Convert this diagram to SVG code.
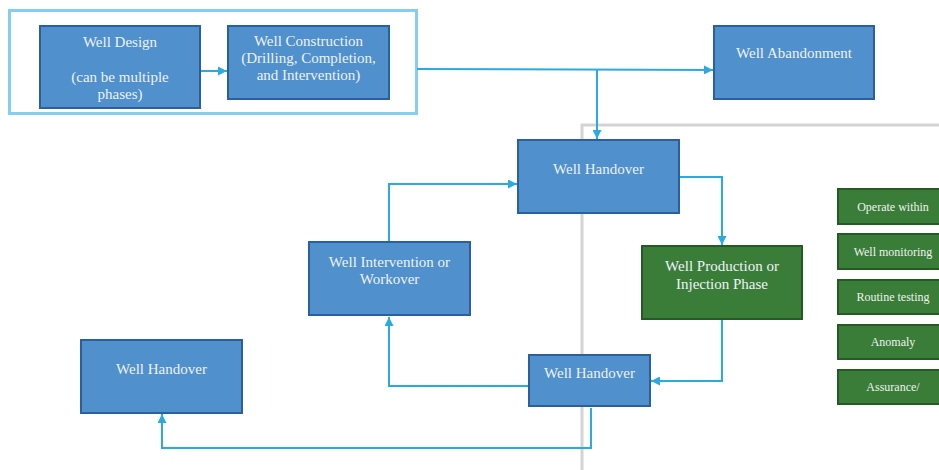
<svg xmlns="http://www.w3.org/2000/svg" width="939" height="470" viewBox="0 0 939 470">
<defs>
<marker id="ah" viewBox="0 0 10 10" refX="10" refY="5" markerWidth="9" markerHeight="9" markerUnits="userSpaceOnUse" orient="auto">
<path d="M0,0 L10,5 L0,10 Z" fill="#29abe2"/>
</marker>
</defs>
<style>
.blue{fill:#4f90cd;stroke:#2c5f9e;stroke-width:2}
.green{fill:#3a7d38;stroke:#255a24;stroke-width:2}
.t{font-family:"Liberation Serif","Times New Roman",serif;font-size:15px;fill:#eef2f8;text-anchor:middle}
.ts{font-family:"Liberation Serif","Times New Roman",serif;font-size:12px;fill:#eef2ee;text-anchor:middle}
.c{fill:none;stroke:#29abe2;stroke-width:2}
</style>
<rect width="939" height="470" fill="#ffffff"/>
<g id="frames">
<rect x="9.5" y="10.5" width="407" height="103" fill="none" stroke="#86cdf0" stroke-width="3"/>
<path d="M582,470 L582,125 L939,125" fill="none" stroke="#d4d4d4" stroke-width="3"/>
</g>
<g id="connectors">
<path class="c" d="M201,71 L227,71" marker-end="url(#ah)"/>
<path class="c" d="M417,69 L713,70" marker-end="url(#ah)"/>
<path class="c" d="M597,69 L597,139" marker-end="url(#ah)"/>
<path class="c" d="M389,242 L389,184 L517,184" marker-end="url(#ah)"/>
<path class="c" d="M679,177 L722,177 L722,245" marker-end="url(#ah)"/>
<path class="c" d="M722,320 L722,381 L651,381" marker-end="url(#ah)"/>
<path class="c" d="M529,386 L389,386 L389,317" marker-end="url(#ah)"/>
<path class="c" d="M591,408 L591,448 L162,448 L162,414" marker-end="url(#ah)"/>
</g>
<g id="well-design">
<rect class="blue" x="40" y="26" width="160" height="82"/>
<text class="t" x="120" y="47">Well Design</text>
<text class="t" x="120" y="82">(can be multiple</text>
<text class="t" x="120" y="99">phases)</text>
</g>
<g id="well-construction">
<rect class="blue" x="228" y="26" width="161" height="73"/>
<text class="t" x="308.5" y="46">Well Construction</text>
<text class="t" x="308.5" y="63">(Drilling, Completion,</text>
<text class="t" x="308.5" y="80">and Intervention)</text>
</g>
<g id="well-abandonment">
<rect class="blue" x="714" y="26" width="160" height="73"/>
<text class="t" x="794" y="58">Well Abandonment</text>
</g>
<g id="well-handover-top">
<rect class="blue" x="518" y="140" width="161" height="73"/>
<text class="t" x="598.5" y="174">Well Handover</text>
</g>
<g id="well-intervention">
<rect class="blue" x="309" y="242" width="161" height="73"/>
<text class="t" x="389.5" y="267">Well Intervention or</text>
<text class="t" x="389.5" y="284">Workover</text>
</g>
<g id="well-production">
<rect class="green" x="642" y="246" width="160" height="73"/>
<text class="t" x="722" y="271">Well Production or</text>
<text class="t" x="722" y="289">Injection Phase</text>
</g>
<g id="well-handover-left">
<rect class="blue" x="81" y="340" width="161" height="73"/>
<text class="t" x="161.5" y="374">Well Handover</text>
</g>
<g id="well-handover-bottom">
<rect class="blue" x="529" y="355" width="121" height="51"/>
<text class="t" x="589.5" y="378">Well Handover</text>
</g>
<g id="operate-within">
<rect class="green" x="838" y="189" width="110" height="35"/>
<text class="ts" x="893" y="211">Operate within</text>
</g>
<g id="well-monitoring">
<rect class="green" x="838" y="234" width="110" height="35"/>
<text class="ts" x="893" y="256">Well monitoring</text>
</g>
<g id="routine-testing">
<rect class="green" x="838" y="280" width="110" height="34"/>
<text class="ts" x="893" y="301">Routine testing</text>
</g>
<g id="anomaly">
<rect class="green" x="838" y="325" width="110" height="34"/>
<text class="ts" x="893" y="346">Anomaly</text>
</g>
<g id="assurance">
<rect class="green" x="838" y="370" width="110" height="34"/>
<text class="ts" x="893" y="391">Assurance/</text>
</g>
</svg>
